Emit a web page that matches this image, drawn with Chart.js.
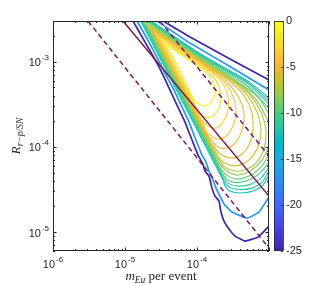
<!DOCTYPE html>
<html><head><meta charset="utf-8">
<script src="https://cdn.jsdelivr.net/npm/chart.js@4.4.1/dist/chart.umd.min.js"></script>
<style>html,body{margin:0;padding:0;background:#fff;}canvas{display:block;}</style>
</head><body>
<canvas id="c" width="312" height="286"></canvas>
<script>
// ---------- axes / colour scale ----------
const xRange = [1e-6, 1e-3];
const yRange = [6e-6, 3e-3];
const xTickExps = [-6, -5, -4];
const yTickExps = [-5, -4, -3];
const cbarRange = [-25, 0];
const cbarTicks = [0, -5, -10, -15, -20, -25];

// ---------- contour levels ----------
const denseLevels = [-0.9, -1.8, -2.7, -3.6, -4.5, -5.4, -6.3, -7.2, -8.1, -9.0, -9.9, -10.8, -11.7, -12.6];
const blueLevel = -16.5;
const purpleLevel = -25;

// ---------- contour paths, pairs of [log10 m, log10 R] ----------
const c1 = [[[-4.450,-2.790],[-4.375,-2.830],[-4.167,-2.950],[-3.958,-3.070],[-3.833,-3.160],[-3.764,-3.270],[-3.75,-3.385],[-3.806,-3.476],[-3.889,-3.521],[-3.986,-3.486],[-4.040,-3.451],[-4.175,-3.216],[-4.310,-2.981],[-4.450,-2.790]]];
const c2 = [[[-4.490,-2.745],[-4.375,-2.812],[-4.167,-2.932],[-3.958,-3.052],[-3.806,-3.145],[-3.708,-3.263],[-3.667,-3.404],[-3.694,-3.545],[-3.778,-3.639],[-3.875,-3.656],[-3.972,-3.592],[-4.058,-3.451],[-4.200,-3.216],[-4.340,-2.981],[-4.490,-2.745]]];
const c3 = [[[-4.525,-2.708],[-4.375,-2.797],[-4.167,-2.916],[-3.958,-3.035],[-3.778,-3.134],[-3.639,-3.263],[-3.569,-3.415],[-3.569,-3.580],[-3.639,-3.709],[-3.736,-3.779],[-3.847,-3.756],[-3.939,-3.674],[-4.074,-3.451],[-4.217,-3.216],[-4.360,-2.981],[-4.525,-2.708]]];
const c4 = [[[-4.558,-2.676],[-4.375,-2.783],[-4.167,-2.902],[-3.958,-3.020],[-3.750,-3.140],[-3.583,-3.275],[-3.486,-3.439],[-3.458,-3.615],[-3.514,-3.779],[-3.611,-3.885],[-3.736,-3.903],[-3.847,-3.838],[-3.908,-3.744],[-4.088,-3.451],[-4.232,-3.216],[-4.376,-2.981],[-4.558,-2.676]]];
const c5 = [[[-4.592,-2.648],[-4.375,-2.771],[-4.167,-2.889],[-3.958,-3.007],[-3.750,-3.128],[-3.556,-3.263],[-3.417,-3.427],[-3.347,-3.615],[-3.375,-3.803],[-3.458,-3.944],[-3.583,-4.014],[-3.708,-4.002],[-3.799,-3.920],[-3.875,-3.826],[-4.028,-3.568],[-4.244,-3.216],[-4.388,-2.981],[-4.592,-2.648]]];
const c6 = [[[-4.622,-2.620],[-4.375,-2.760],[-4.167,-2.878],[-3.958,-2.996],[-3.736,-3.120],[-3.514,-3.251],[-3.333,-3.415],[-3.236,-3.603],[-3.222,-3.803],[-3.278,-3.979],[-3.389,-4.096],[-3.528,-4.131],[-3.653,-4.096],[-3.764,-4.002],[-3.839,-3.897],[-4.006,-3.627],[-4.185,-3.333],[-4.401,-2.981],[-4.622,-2.620]]];
const c7 = [[[-4.651,-2.593],[-4.375,-2.749],[-4.167,-2.867],[-3.958,-2.985],[-3.722,-3.116],[-3.486,-3.245],[-3.292,-3.404],[-3.167,-3.592],[-3.111,-3.803],[-3.153,-4.002],[-3.264,-4.143],[-3.403,-4.214],[-3.542,-4.214],[-3.667,-4.155],[-3.750,-4.049],[-3.831,-3.932],[-3.982,-3.685],[-4.197,-3.333],[-4.413,-2.981],[-4.651,-2.593]]];
const c8 = [[[-4.681,-2.565],[-4.375,-2.738],[-4.167,-2.856],[-3.958,-2.974],[-3.708,-3.110],[-3.458,-3.245],[-3.250,-3.404],[-3.111,-3.592],[-3.042,-3.815],[-3.069,-4.026],[-3.167,-4.178],[-3.319,-4.266],[-3.472,-4.284],[-3.611,-4.237],[-3.701,-4.143],[-3.793,-4.014],[-3.994,-3.685],[-4.210,-3.333],[-4.426,-2.981],[-4.681,-2.565]]];
const c9 = [[[-3.0,-3.721],[-3.153,-3.474],[-3.375,-3.286],[-3.681,-3.110],[-3.958,-2.962],[-4.167,-2.845],[-4.375,-2.726],[-4.514,-2.647],[-4.711,-2.536],[-4.582,-2.746],[-4.438,-2.981],[-4.294,-3.216],[-4.151,-3.451],[-3.935,-3.803],[-3.755,-4.096],[-3.681,-4.202],[-3.583,-4.284],[-3.444,-4.331],[-3.264,-4.284],[-3.097,-4.155],[-3.0,-3.991]]];
const c10 = [[[-3.0,-3.615],[-3.139,-3.427],[-3.333,-3.298],[-3.653,-3.110],[-3.958,-2.951],[-4.167,-2.833],[-4.375,-2.715],[-4.514,-2.636],[-4.715,-2.515],[-4.594,-2.746],[-4.451,-2.981],[-4.307,-3.216],[-4.163,-3.451],[-3.948,-3.803],[-3.768,-4.096],[-3.667,-4.261],[-3.569,-4.343],[-3.431,-4.378],[-3.264,-4.337],[-3.111,-4.237],[-3.0,-4.096]]];
const c11 = [
  [[-3.0,-3.545],[-3.306,-3.286],[-3.625,-3.105],[-3.958,-2.940],[-4.167,-2.822],[-4.375,-2.704],[-4.514,-2.625],[-4.694,-2.523]],
  [[-4.744,-2.523],[-4.607,-2.746],[-4.463,-2.981],[-4.319,-3.216],[-4.176,-3.451],[-3.960,-3.803],[-3.780,-4.096],[-3.700,-4.225],[-3.653,-4.307],[-3.569,-4.390],[-3.431,-4.419],[-3.264,-4.383],[-3.125,-4.307],[-3.0,-4.178]]];
const c12 = [
  [[-3.0,-3.498],[-3.292,-3.263],[-3.625,-3.093],[-3.958,-2.929],[-4.167,-2.811],[-4.375,-2.693],[-4.514,-2.614],[-4.675,-2.523]],
  [[-4.757,-2.523],[-4.619,-2.746],[-4.476,-2.981],[-4.332,-3.216],[-4.188,-3.451],[-3.973,-3.803],[-3.793,-4.096],[-3.676,-4.284],[-3.639,-4.354],[-3.556,-4.431],[-3.417,-4.460],[-3.25,-4.437],[-3.111,-4.366],[-3.0,-4.237]]];
const c13 = [
  [[-3.0,-3.462],[-3.292,-3.245],[-3.625,-3.081],[-3.958,-2.918],[-4.167,-2.800],[-4.375,-2.682],[-4.514,-2.603],[-4.654,-2.523]],
  [[-4.769,-2.523],[-4.632,-2.746],[-4.488,-2.981],[-4.344,-3.216],[-4.201,-3.451],[-3.985,-3.803],[-3.805,-4.096],[-3.661,-4.331],[-3.625,-4.401],[-3.556,-4.472],[-3.417,-4.501],[-3.236,-4.484],[-3.097,-4.413],[-3.0,-4.284]]];
const c14 = [
  [[-3.0,-3.427],[-3.292,-3.228],[-3.625,-3.069],[-3.958,-2.907],[-4.167,-2.789],[-4.375,-2.672],[-4.514,-2.592],[-4.635,-2.523]],
  [[-4.782,-2.523],[-4.644,-2.746],[-4.501,-2.981],[-4.357,-3.216],[-4.213,-3.451],[-3.998,-3.803],[-3.818,-4.096],[-3.638,-4.390],[-3.611,-4.460],[-3.542,-4.519],[-3.403,-4.542],[-3.222,-4.519],[-3.083,-4.448],[-3.0,-4.331]]];
const blueContour = [
  [[-3.0,-3.333],[-3.542,-3.058],[-4.097,-2.782],[-4.556,-2.523]],
  [[-4.833,-2.523],[-4.667,-2.770],[-4.514,-3.016],[-4.417,-3.181],[-4.319,-3.333],[-4.222,-3.509],[-4.111,-3.709],[-4.014,-3.920],[-3.931,-4.096],[-3.875,-4.178],[-3.833,-4.284],[-3.778,-4.390],[-3.736,-4.484],[-3.681,-4.577],[-3.625,-4.671],[-3.514,-4.765],[-3.306,-4.836],[-3.139,-4.765],[-3.0,-4.589]]];
const purpleContour = [
  [[-3.0,-3.216],[-3.542,-2.969],[-4.097,-2.711],[-4.472,-2.523]],
  [[-4.889,-2.523],[-4.722,-2.770],[-4.556,-3.016],[-4.458,-3.181],[-4.375,-3.333],[-4.278,-3.509],[-4.167,-3.709],[-4.069,-3.920],[-3.986,-4.096],[-3.917,-4.202],[-3.889,-4.284],[-3.833,-4.343],[-3.792,-4.484],[-3.75,-4.577],[-3.694,-4.636],[-3.667,-4.765],[-3.625,-4.871],[-3.556,-4.965],[-3.472,-5.047],[-3.333,-5.106],[-3.153,-5.059],[-3.0,-4.930]]];
const densePaths = [c1, c2, c3, c4, c5, c6, c7, c8, c9, c10, c11, c12, c13, c14];

// ---------- reference lines ----------
const solidLine  = [[-5.028,-2.523],[-3.0,-4.577]];
const dashedLow  = [[-5.514,-2.523],[-3.0,-5.188]];
const dashedHigh = [[-4.514,-2.523],[-3.0,-4.108]];

// ---------- styling ----------
const INK = '#262626';
const MAROON = 'rgb(128,22,82)';
const parula = [[0.2422,0.1504,0.6603],[0.2504,0.1650,0.7076],[0.2578,0.1818,0.7511],[0.2647,0.1978,0.7952],[0.2706,0.2147,0.8364],[0.2751,0.2342,0.8710],[0.2783,0.2559,0.8991],[0.2803,0.2782,0.9221],[0.2813,0.3006,0.9414],[0.2810,0.3228,0.9579],[0.2795,0.3447,0.9717],[0.2760,0.3667,0.9829],[0.2699,0.3892,0.9906],[0.2602,0.4123,0.9952],[0.2440,0.4358,0.9988],[0.2206,0.4603,0.9973],[0.1963,0.4847,0.9892],[0.1834,0.5074,0.9798],[0.1786,0.5289,0.9682],[0.1764,0.5499,0.9520],[0.1687,0.5703,0.9359],[0.1540,0.5902,0.9218],[0.1460,0.6091,0.9079],[0.1380,0.6276,0.8973],[0.1248,0.6459,0.8883],[0.1113,0.6635,0.8763],[0.0952,0.6798,0.8598],[0.0689,0.6948,0.8394],[0.0297,0.7082,0.8163],[0.0036,0.7203,0.7917],[0.0067,0.7312,0.7660],[0.0433,0.7411,0.7394],[0.0964,0.7500,0.7120],[0.1408,0.7584,0.6842],[0.1717,0.7670,0.6554],[0.1938,0.7758,0.6251],[0.2161,0.7843,0.5923],[0.2470,0.7918,0.5567],[0.2906,0.7973,0.5188],[0.3406,0.8008,0.4789],[0.3909,0.8029,0.4354],[0.4456,0.8024,0.3909],[0.5044,0.7993,0.3480],[0.5616,0.7942,0.3045],[0.6174,0.7876,0.2612],[0.6720,0.7793,0.2227],[0.7242,0.7698,0.1910],[0.7738,0.7598,0.1646],[0.8203,0.7498,0.1535],[0.8634,0.7406,0.1596],[0.9035,0.7330,0.1774],[0.9393,0.7288,0.2100],[0.9728,0.7298,0.2394],[0.9956,0.7434,0.2371],[0.9970,0.7659,0.2199],[0.9952,0.7893,0.2028],[0.9892,0.8136,0.1885],[0.9786,0.8386,0.1766],[0.9676,0.8639,0.1643],[0.9610,0.8890,0.1537],[0.9597,0.9135,0.1423],[0.9628,0.9373,0.1265],[0.9691,0.9606,0.1064],[0.9769,0.9839,0.0805]];
function cmap(t){
  t = Math.max(0, Math.min(1, t));
  const f = t * (parula.length - 1), i = Math.min(Math.floor(f), parula.length - 2), w = f - i;
  const c = parula[i].map((v, j) => Math.round(255 * (v * (1 - w) + parula[i + 1][j] * w)));
  return `rgb(${c[0]},${c[1]},${c[2]})`;
}
const levelColor = L => cmap((L - cbarRange[0]) / (cbarRange[1] - cbarRange[0]));
const toXY = p => ({x: Math.pow(10, p[0]), y: Math.pow(10, p[1])});

const datasets = [];
function addPath(pts, color, width, tension, dash){
  datasets.push({data: pts.map(toXY), showLine: true, borderColor: color, backgroundColor: color,
    borderWidth: width, tension: tension, pointRadius: 0, fill: false, clip: 0,
    borderDash: dash || [], borderCapStyle: 'butt', borderJoinStyle: 'round'});
}
addPath(solidLine, MAROON, 1.5, 0);
addPath(dashedLow, MAROON, 1.5, 0, [5, 3.5]);
addPath(dashedHigh, MAROON, 1.5, 0, [5, 3.5]);
densePaths.forEach((pieces, i) => pieces.forEach(p => addPath(p, levelColor(denseLevels[i]), 1.1, 0.3)));
blueContour.forEach(p => addPath(p, levelColor(blueLevel), 1.7, 0.1));
purpleContour.forEach(p => addPath(p, levelColor(purpleLevel), 1.7, 0.1));

function drawSup(ctx, base, sup, x, yBase, align){
  const bf = '11px "Liberation Sans", Arial, sans-serif', sf = '8px "Liberation Sans", Arial, sans-serif';
  ctx.font = bf; const wb = ctx.measureText(base).width;
  ctx.font = sf; const ws = ctx.measureText(sup).width;
  const gap = 1, total = wb + gap + ws;
  let x0 = align === 'center' ? x - total / 2 : x - total;
  ctx.textAlign = 'left'; ctx.textBaseline = 'alphabetic';
  ctx.font = bf; ctx.fillText(base, x0, yBase);
  ctx.font = sf; ctx.fillText(sup, x0 + wb + gap, yBase - 6);
}

const decor = {
  id: 'decor',
  beforeDraw(chart){
    const ctx = chart.ctx; ctx.save(); ctx.fillStyle = '#fff'; ctx.fillRect(0, 0, chart.width, chart.height); ctx.restore();
  },
  afterDraw(chart){
    const {ctx, chartArea: a} = chart, sx = chart.scales.x, sy = chart.scales.y;
    ctx.save();
    ctx.strokeStyle = INK; ctx.fillStyle = INK; ctx.lineWidth = 1;
    ctx.strokeRect(a.left + 0.5, a.top + 0.5, a.right - a.left - 1, a.bottom - a.top - 1);
    ctx.beginPath();
    for (let e = -6; e <= -3; e++) for (let m = 1; m <= 9; m++) {
      const v = m * Math.pow(10, e);
      if (v < xRange[0] * 0.999 || v > xRange[1] * 1.001) continue;
      const px = Math.round(sx.getPixelForValue(v)) + 0.5, len = m === 1 ? 3.5 : 2;
      ctx.moveTo(px, a.bottom); ctx.lineTo(px, a.bottom - len);
      ctx.moveTo(px, a.top); ctx.lineTo(px, a.top + len);
    }
    for (let e = -6; e <= -3; e++) for (let m = 1; m <= 9; m++) {
      const v = m * Math.pow(10, e);
      if (v < yRange[0] * 0.999 || v > yRange[1] * 1.001) continue;
      const py = Math.round(sy.getPixelForValue(v)) + 0.5, len = m === 1 ? 3.5 : 2;
      ctx.moveTo(a.left, py); ctx.lineTo(a.left + len, py);
      ctx.moveTo(a.right, py); ctx.lineTo(a.right - len, py);
    }
    ctx.stroke();
    xTickExps.forEach(e => drawSup(ctx, '10', String(e), sx.getPixelForValue(Math.pow(10, e)), 268, 'center'));
    yTickExps.forEach(e => drawSup(ctx, '10', String(e), 49, sy.getPixelForValue(Math.pow(10, e)) + 4.5, 'right'));
    const serif = '"Liberation Serif", "Times New Roman", serif';
    const xt = [{t: 'm', f: 'italic 13px ' + serif, dy: 0}, {t: 'Eu', f: 'italic 9.5px ' + serif, dy: 2.5}, {t: ' per event', f: '13px ' + serif, dy: 0}];
    let tw = 0; xt.forEach(s => { ctx.font = s.f; s.w = ctx.measureText(s.t).width; tw += s.w; });
    let cx = 161 - tw / 2;
    ctx.textAlign = 'left'; ctx.textBaseline = 'alphabetic';
    xt.forEach(s => { ctx.font = s.f; ctx.fillText(s.t, cx, 280 + s.dy); cx += s.w; });
    const yt = [{t: 'R', f: 'italic 13px ' + serif, dy: 0}, {t: 'r\u2212p/SN', f: 'italic 9.5px ' + serif, dy: 2.5}];
    tw = 0; yt.forEach(s => { ctx.font = s.f; s.w = ctx.measureText(s.t).width; tw += s.w; });
    ctx.save(); ctx.translate(20, 136); ctx.rotate(-Math.PI / 2);
    cx = -tw / 2;
    yt.forEach(s => { ctx.font = s.f; ctx.fillText(s.t, cx, s.dy); cx += s.w; });
    ctx.restore();
    const bx = 274, bw = 9, bt = a.top, bb = a.bottom, n = parula.length, bh = (bb - bt) / n;
    for (let i = 0; i < n; i++) {
      const c = parula[i].map(v => Math.round(v * 255));
      ctx.fillStyle = `rgb(${c[0]},${c[1]},${c[2]})`;
      const y1 = bb - (i + 1) * bh;
      ctx.fillRect(bx, Math.floor(y1), bw, Math.ceil(bh) + 1);
    }
    ctx.fillStyle = '#fff'; ctx.fillRect(bx, bb, bw + 1, 3);
    ctx.strokeStyle = INK; ctx.lineWidth = 0.8;
    ctx.strokeRect(bx + 0.5, bt + 0.5, bw, bb - bt - 1);
    ctx.fillStyle = INK; ctx.font = '11px "Liberation Sans", Arial, sans-serif';
    ctx.textAlign = 'left'; ctx.textBaseline = 'middle';
    ctx.beginPath();
    cbarTicks.forEach(v => {
      const py = bb - (v - cbarRange[0]) / (cbarRange[1] - cbarRange[0]) * (bb - bt);
      ctx.fillText(String(v), 286, py);
      ctx.moveTo(bx + bw, Math.round(py) + 0.5); ctx.lineTo(bx + bw - 2, Math.round(py) + 0.5);
    });
    ctx.stroke();
    ctx.restore();
  }
};

new Chart(document.getElementById('c'), {
  type: 'scatter',
  data: {datasets},
  options: {
    responsive: false, animation: false, devicePixelRatio: 1, events: [],
    layout: {padding: {left: 53, right: 43, top: 21, bottom: 35}},
    plugins: {legend: {display: false}, tooltip: {enabled: false}, title: {display: false}},
    scales: {
      x: {type: 'logarithmic', min: xRange[0], max: xRange[1], display: false, bounds: 'data'},
      y: {type: 'logarithmic', min: yRange[0], max: yRange[1], display: false, bounds: 'data'}
    }
  },
  plugins: [decor]
});
</script>
</body></html>
